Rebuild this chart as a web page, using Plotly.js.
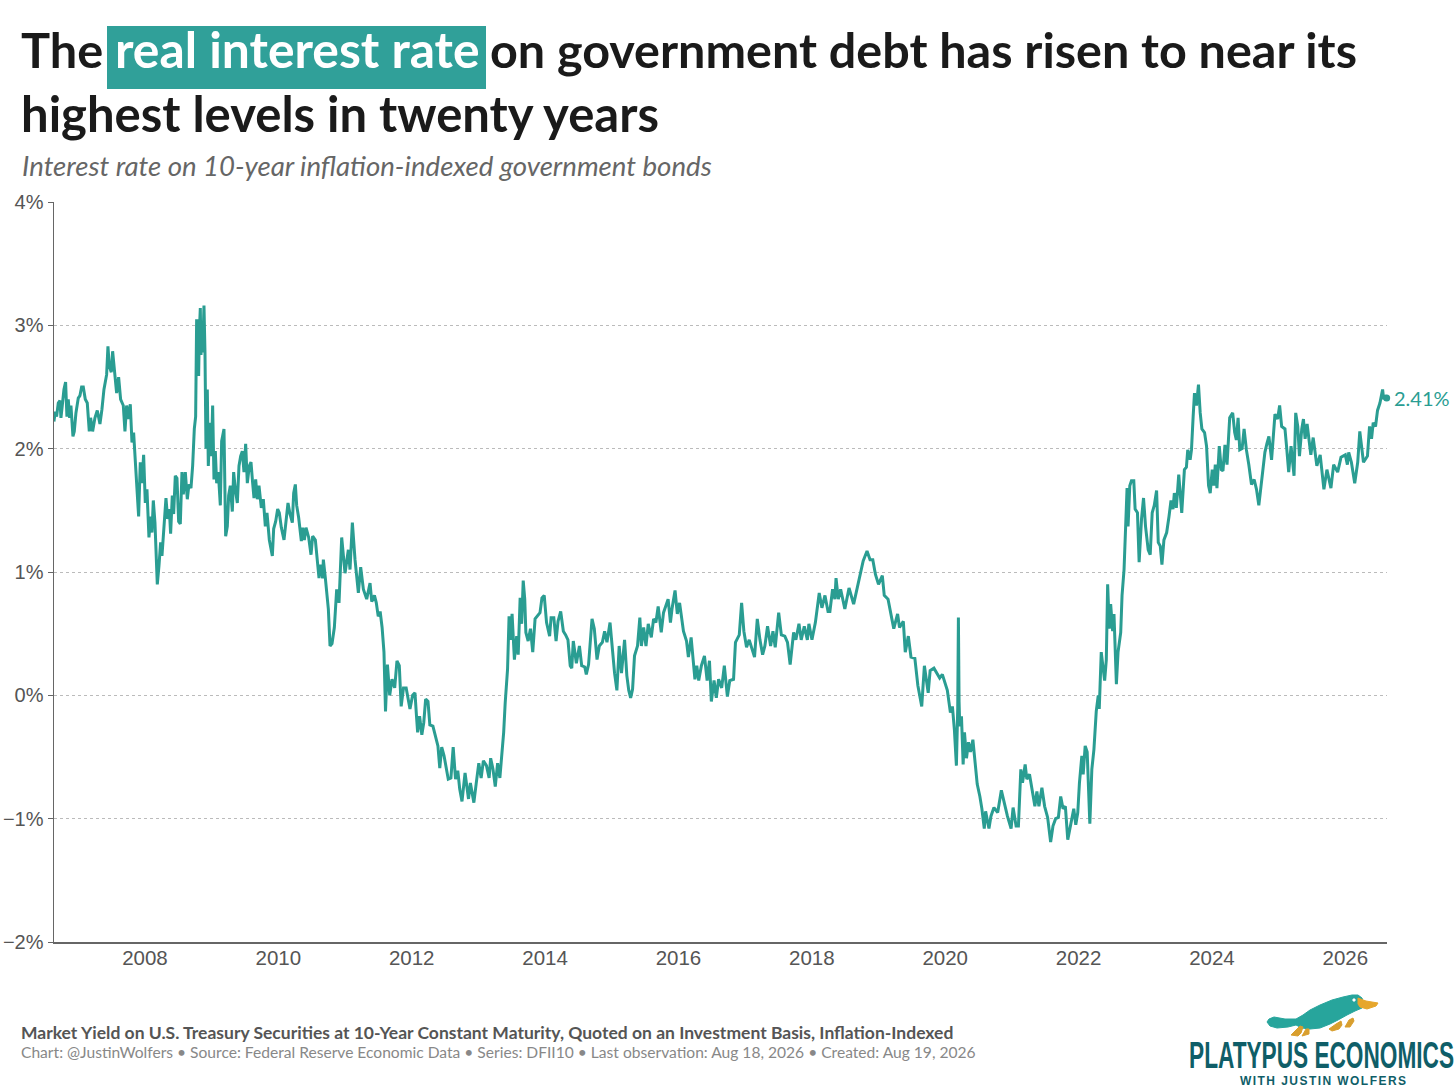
<!DOCTYPE html>
<html>
<head>
<meta charset="utf-8">
<script src="https://cdn.plot.ly/plotly-3.0.1.min.js"></script>
<style>
  html, body { margin: 0; padding: 0; background: #fff; }
  #chart { width: 1456px; height: 1092px; }
</style>
</head>
<body>
<div id="chart"></div>
<script>
// Series (DFII10, decimal years, percent)
const years = [
  2006.635,2006.655,2006.675,2006.70,2006.725,2006.74,2006.76,2006.785,2006.81,2006.83,2006.85,2006.87,
  2006.89,2006.92,2006.94,2006.965,2007.0,2007.025,2007.05,2007.075,2007.105,2007.135,2007.165,2007.185,
  2007.215,2007.25,2007.285,2007.325,2007.355,2007.385,2007.425,2007.445,2007.465,2007.495,2007.515,2007.545,
  2007.575,2007.605,2007.635,2007.675,2007.70,2007.725,2007.745,2007.78,2007.805,2007.83,2007.85,2007.875,
  2007.905,2007.93,2007.955,2007.98,2008.005,2008.03,2008.06,2008.085,2008.105,2008.125,2008.15,2008.165,
  2008.185,2008.21,2008.235,2008.255,2008.275,2008.30,2008.315,2008.34,2008.365,2008.385,2008.41,2008.43,
  2008.455,2008.48,2008.505,2008.53,2008.555,2008.575,2008.605,2008.635,2008.66,2008.69,2008.715,2008.74,
  2008.76,2008.775,2008.785,2008.795,2008.805,2008.815,2008.83,2008.84,2008.855,2008.865,2008.885,2008.90,
  2008.915,2008.935,2008.95,2008.975,2008.995,2009.015,2009.035,2009.055,2009.075,2009.10,2009.13,2009.15,
  2009.185,2009.21,2009.235,2009.255,2009.28,2009.31,2009.33,2009.355,2009.385,2009.41,2009.435,2009.46,
  2009.485,2009.51,2009.535,2009.565,2009.59,2009.615,2009.635,2009.66,2009.685,2009.71,2009.745,2009.775,
  2009.805,2009.83,2009.865,2009.91,2009.93,2009.96,2009.99,2010.015,2010.045,2010.085,2010.115,2010.145,
  2010.175,2010.21,2010.23,2010.255,2010.275,2010.305,2010.345,2010.365,2010.39,2010.415,2010.455,2010.49,
  2010.515,2010.555,2010.61,2010.635,2010.665,2010.675,2010.705,2010.735,2010.75,2010.775,2010.805,2010.84,
  2010.875,2010.91,2010.95,2011.0,2011.05,2011.075,2011.11,2011.15,2011.20,2011.235,2011.275,2011.325,
  2011.375,2011.401,2011.441,2011.469,2011.498,2011.527,2011.556,2011.584,2011.607,2011.636,2011.670,2011.705,
  2011.745,2011.779,2011.814,2011.842,2011.877,2011.917,2011.946,2011.974,2012.014,2012.049,2012.072,2012.089,
  2012.118,2012.152,2012.181,2012.209,2012.244,2012.272,2012.318,2012.358,2012.393,2012.421,2012.450,2012.485,
  2012.519,2012.548,2012.588,2012.622,2012.657,2012.691,2012.720,2012.754,2012.800,2012.829,2012.852,2012.880,
  2012.932,2012.966,2013.006,2013.041,2013.075,2013.121,2013.161,2013.184,2013.219,2013.253,2013.288,2013.322,
  2013.356,2013.379,2013.402,2013.437,2013.460,2013.483,2013.505,2013.540,2013.574,2013.597,2013.626,2013.649,
  2013.672,2013.695,2013.712,2013.746,2013.781,2013.815,2013.850,2013.884,2013.924,2013.953,2013.987,2014.022,
  2014.068,2014.090,2014.131,2014.165,2014.194,2014.234,2014.274,2014.308,2014.343,2014.377,2014.400,2014.423,
  2014.469,2014.515,2014.549,2014.595,2014.618,2014.652,2014.681,2014.704,2014.738,2014.779,2014.813,2014.859,
  2014.893,2014.928,2014.974,2015.008,2015.042,2015.077,2015.111,2015.146,2015.192,2015.226,2015.255,2015.283,
  2015.312,2015.341,2015.386,2015.421,2015.444,2015.478,2015.513,2015.547,2015.593,2015.627,2015.662,2015.696,
  2015.742,2015.776,2015.845,2015.880,2015.903,2015.949,2015.983,2016.017,2016.046,2016.075,2016.121,2016.149,
  2016.190,2016.218,2016.247,2016.275,2016.304,2016.344,2016.390,2016.430,2016.465,2016.493,2016.534,2016.568,
  2016.602,2016.648,2016.688,2016.734,2016.769,2016.826,2016.855,2016.912,2016.947,2016.981,2017.021,2017.061,
  2017.107,2017.141,2017.182,2017.222,2017.262,2017.296,2017.336,2017.382,2017.417,2017.451,2017.503,2017.543,
  2017.595,2017.635,2017.675,2017.727,2017.761,2017.807,2017.841,2017.887,2017.933,2017.956,2018.002,2018.053,
  2018.111,2018.151,2018.197,2018.243,2018.271,2018.311,2018.346,2018.363,2018.397,2018.432,2018.495,2018.558,
  2018.627,2018.701,2018.770,2018.828,2018.873,2018.914,2018.954,2019.0,2019.057,2019.086,2019.143,2019.200,
  2019.229,2019.286,2019.315,2019.372,2019.401,2019.447,2019.487,2019.545,2019.590,2019.648,2019.688,2019.745,
  2019.774,2019.831,2019.917,2019.957,2020.032,2020.078,2020.108,2020.138,2020.168,2020.188,2020.198,2020.208,
  2020.218,2020.244,2020.269,2020.289,2020.319,2020.349,2020.379,2020.415,2020.445,2020.480,2020.520,2020.550,
  2020.586,2020.606,2020.656,2020.686,2020.731,2020.787,2020.842,2020.882,2020.933,2020.988,2021.018,2021.063,
  2021.098,2021.134,2021.159,2021.199,2021.224,2021.264,2021.300,2021.345,2021.375,2021.405,2021.450,2021.491,
  2021.536,2021.581,2021.616,2021.656,2021.697,2021.732,2021.767,2021.802,2021.838,2021.878,2021.928,2021.958,
  2021.988,2022.013,2022.049,2022.069,2022.099,2022.129,2022.169,2022.199,2022.230,2022.265,2022.295,2022.310,
  2022.340,2022.370,2022.391,2022.416,2022.436,2022.461,2022.481,2022.511,2022.531,2022.567,2022.592,2022.632,
  2022.652,2022.682,2022.707,2022.727,2022.742,2022.768,2022.793,2022.828,2022.848,2022.883,2022.908,2022.944,
  2022.974,2023.004,2023.044,2023.074,2023.104,2023.135,2023.170,2023.195,2023.225,2023.250,2023.280,2023.321,
  2023.356,2023.386,2023.416,2023.436,2023.466,2023.502,2023.547,2023.572,2023.587,2023.617,2023.637,2023.673,
  2023.693,2023.718,2023.738,2023.768,2023.798,2023.824,2023.849,2023.889,2023.919,2023.949,2023.974,2024.004,
  2024.029,2024.050,2024.075,2024.110,2024.140,2024.165,2024.195,2024.226,2024.266,2024.311,2024.341,2024.366,
  2024.392,2024.417,2024.452,2024.482,2024.517,2024.553,2024.593,2024.633,2024.668,2024.703,2024.744,2024.794,
  2024.824,2024.854,2024.894,2024.945,2024.985,2025.015,2025.045,2025.095,2025.120,2025.151,2025.186,2025.231,
  2025.256,2025.287,2025.312,2025.347,2025.372,2025.397,2025.427,2025.483,2025.518,2025.573,2025.623,2025.679,
  2025.724,2025.784,2025.825,2025.885,2025.935,2026.0,2026.031,2026.051,2026.091,2026.141,2026.186,2026.217,
  2026.272,2026.332,2026.363,2026.393,2026.418,2026.453,2026.483,2026.519,2026.559,2026.575,2026.595,2026.62
];
const rates = [
  2.22,2.30,2.26,2.37,2.39,2.25,2.35,2.48,2.54,2.26,2.40,2.25,
  2.35,2.10,2.14,2.29,2.41,2.43,2.50,2.50,2.40,2.37,2.14,2.25,
  2.14,2.25,2.31,2.20,2.32,2.48,2.60,2.83,2.67,2.62,2.79,2.62,
  2.45,2.58,2.40,2.35,2.14,2.35,2.24,2.36,2.05,2.13,1.89,1.72,
  1.45,1.89,1.72,1.95,1.56,1.67,1.28,1.45,1.32,1.58,1.40,1.10,
  0.90,1.05,1.24,1.13,1.28,1.44,1.60,1.43,1.51,1.31,1.62,1.47,
  1.78,1.76,1.41,1.39,1.81,1.63,1.81,1.59,1.71,1.68,1.86,2.16,
  2.26,3.05,2.70,3.05,2.59,2.94,3.14,2.76,3.02,2.78,3.16,2.78,
  2.00,2.48,1.86,2.21,1.94,2.35,1.75,1.98,1.72,1.81,1.54,2.06,
  2.16,1.29,1.37,1.62,1.70,1.49,1.81,1.67,1.56,1.86,1.94,1.98,
  1.81,2.04,1.72,1.86,1.89,1.72,1.60,1.75,1.59,1.70,1.52,1.59,
  1.37,1.48,1.26,1.13,1.35,1.41,1.51,1.48,1.36,1.26,1.44,1.56,
  1.47,1.40,1.64,1.71,1.54,1.44,1.25,1.36,1.26,1.36,1.28,1.14,
  1.29,1.26,0.95,1.06,0.95,1.10,0.95,0.79,0.70,0.40,0.42,0.55,
  0.86,0.75,1.28,0.99,1.18,1.02,1.40,1.10,0.83,1.04,0.86,0.78,
  0.91,0.76,0.81,0.75,0.64,0.68,0.55,0.35,-0.13,0.25,0.00,0.13,
  0.06,0.28,0.24,-0.09,0.06,0.06,-0.03,-0.11,0.00,0.02,-0.17,-0.30,
  -0.17,-0.32,-0.22,-0.03,-0.05,-0.24,-0.25,-0.33,-0.41,-0.59,-0.42,-0.49,
  -0.60,-0.68,-0.67,-0.42,-0.68,-0.61,-0.76,-0.86,-0.63,-0.76,-0.84,-0.71,
  -0.87,-0.72,-0.55,-0.67,-0.53,-0.57,-0.67,-0.51,-0.60,-0.74,-0.55,-0.67,
  -0.46,-0.30,-0.06,0.21,0.64,0.45,0.66,0.29,0.48,0.33,0.79,0.58,
  0.93,0.78,0.51,0.44,0.54,0.35,0.62,0.64,0.67,0.79,0.81,0.59,
  0.48,0.63,0.63,0.44,0.60,0.68,0.52,0.49,0.45,0.24,0.22,0.44,
  0.26,0.40,0.24,0.23,0.17,0.25,0.45,0.62,0.54,0.29,0.40,0.43,
  0.52,0.43,0.59,0.37,0.18,0.04,0.40,0.18,0.45,0.16,0.04,-0.02,
  0.05,0.32,0.40,0.63,0.40,0.55,0.40,0.58,0.47,0.62,0.59,0.72,
  0.51,0.67,0.78,0.59,0.70,0.85,0.66,0.75,0.64,0.52,0.44,0.31,
  0.47,0.32,0.13,0.24,0.12,0.24,0.32,0.12,0.28,-0.05,0.12,-0.02,
  0.13,0.06,0.24,-0.01,0.12,0.13,0.43,0.49,0.75,0.52,0.39,0.45,
  0.37,0.31,0.62,0.45,0.33,0.40,0.56,0.40,0.52,0.39,0.67,0.49,
  0.48,0.43,0.25,0.51,0.45,0.58,0.45,0.56,0.45,0.58,0.45,0.59,
  0.83,0.71,0.81,0.68,0.68,0.86,0.78,0.95,0.78,0.86,0.70,0.87,
  0.74,0.93,1.09,1.17,1.10,1.10,0.98,0.90,0.97,0.81,0.78,0.62,
  0.54,0.66,0.55,0.60,0.35,0.48,0.31,0.30,0.08,-0.09,0.24,0.02,
  0.20,0.22,0.14,0.17,0.04,-0.14,-0.09,-0.28,-0.57,-0.10,0.63,-0.05,
  -0.25,-0.17,-0.56,-0.30,-0.51,-0.38,-0.46,-0.36,-0.55,-0.72,-0.82,-0.92,
  -1.08,-0.94,-1.08,-0.98,-0.91,-0.95,-0.77,-0.87,-0.98,-1.08,-0.91,-1.06,
  -1.06,-0.60,-0.71,-0.56,-0.68,-0.64,-0.76,-0.90,-0.78,-0.90,-0.75,-0.90,
  -0.99,-1.19,-1.06,-1.00,-0.99,-0.82,-0.92,-0.90,-1.17,-1.07,-0.92,-1.05,
  -0.95,-0.71,-0.49,-0.64,-0.41,-0.46,-1.04,-0.60,-0.44,-0.13,0.00,-0.11,
  0.35,0.21,0.12,0.29,0.90,0.54,0.74,0.52,0.66,0.09,0.35,0.51,
  0.81,1.02,1.43,1.68,1.37,1.70,1.74,1.74,1.51,1.48,1.08,1.43,
  1.60,1.37,1.18,1.14,1.48,1.54,1.66,1.24,1.21,1.06,1.26,1.32,
  1.45,1.58,1.51,1.64,1.52,1.79,1.48,1.67,1.83,1.85,1.99,1.91,
  1.99,2.26,2.45,2.35,2.52,2.29,2.16,2.13,2.02,1.70,1.64,1.83,
  1.70,1.87,1.68,2.02,1.83,1.82,2.03,1.87,2.25,2.29,2.13,2.07,
  2.25,1.99,2.00,2.16,1.99,1.87,1.71,1.75,1.67,1.54,1.75,1.97,
  2.04,2.10,1.91,2.28,2.24,2.35,2.18,2.16,2.01,1.81,2.02,1.78,
  2.29,2.18,1.94,2.16,2.24,2.08,2.20,1.95,2.09,1.86,1.95,1.67,
  1.83,1.68,1.87,1.81,1.93,1.95,1.87,1.97,1.89,1.72,1.89,2.14,
  1.89,1.94,2.18,2.08,2.21,2.18,2.31,2.37,2.48,2.40,2.43,2.41
];
const yearTicks = [2008,2010,2012,2014,2016,2018,2020,2022,2024,2026];
const rateTicks = [-2,-1,0,1,2,3,4];
const rateTickText = ["−2%","−1%","0%","1%","2%","3%","4%"];
const lastLabel = "2.41%";

const titleStart = "The";
const titleHighlight = "real interest rate";
const titleEnd = "on government debt has risen to near its";
const titleSecond = "highest levels in twenty years";
const subtitle = "Interest rate on 10-year inflation-indexed government bonds";
const footBold = "Market Yield on U.S. Treasury Securities at 10-Year Constant Maturity, Quoted on an Investment Basis, Inflation-Indexed";
const footLight = "Chart: @JustinWolfers • Source: Federal Reserve Economic Data • Series: DFII10 • Last observation: Aug 18, 2026 • Created: Aug 19, 2026";
const logoName = "PLATYPUS ECONOMICS";
const logoBy = "WITH JUSTIN WOLFERS";

const teal = "#2a9d92";
const W = 1456, H = 1092;
const mar = { l: 54, r: 69, t: 202, b: 150 };

// page pixels to paper coords
const px = x => (x - mar.l) / (W - mar.l - mar.r);
const py = y => (H - mar.b - y) / (H - mar.t - mar.b);

function label(text, x, y, font, anchor) {
  return {
    text: text, xref: "paper", yref: "paper", x: px(x), y: py(y),
    xanchor: anchor || "left", yanchor: "middle", showarrow: false,
    borderpad: 0, borderwidth: 0, font: font
  };
}

function pathShape(points, color) {
  const d = points.map((p, i) => (i ? "L" : "M") + px(p[0]) + "," + py(p[1])).join(" ") + " Z";
  return { type: "path", xref: "paper", yref: "paper", path: d, fillcolor: color, line: { color: color, width: 1 } };
}

const titleFont = { family: "Lato", size: 48.7, weight: 700, color: "#1a1a1a" };

const annotations = [
  label(titleStart, 21, 49.5, titleFont),
  label(titleHighlight, 115, 49.5, Object.assign({}, titleFont, { color: "#fff", size: 49.8 })),
  label(titleEnd, 490, 49.5, Object.assign({}, titleFont, { size: 48.5 })),
  label(titleSecond, 21, 113.5, Object.assign({}, titleFont, { size: 49 })),
  label(subtitle, 22, 165.5, { family: "Lato", size: 27.6, style: "italic", color: "#666" }),
  label(lastLabel, 1394, 398, { family: "Lato", size: 20, color: teal }),
  label(footBold, 21, 1032, { family: "Lato", size: 17.5, weight: 700, color: "#555" }),
  label(footLight, 21, 1052, { family: "Lato", size: 15.6, color: "#888" }),
  label(logoName, 1321, 1055, { family: "Liberation Sans", size: 37, weight: 700, color: "#0f5e68" }, "center"),
  label(logoBy, 1323, 1081, { family: "Liberation Sans", size: 12, weight: 700, color: "#0f5e68" }, "center")
];

const shapes = [
  { type: "rect", xref: "paper", yref: "paper", x0: px(107), x1: px(486), y0: py(89), y1: py(26),
    fillcolor: "#30a099", line: { width: 0 }, layer: "above" },
  // platypus logo
  pathShape([[1267,1022],[1269,1019],[1274,1017],[1285,1019],[1296,1019],[1303,1015],[1310,1010],[1320,1005],[1332,1000],[1343,997],[1352,995],[1358,995],[1362,998],[1364,1004],[1362,1008],[1355,1011],[1347,1015],[1338,1020],[1330,1024],[1320,1028],[1310,1029],[1302,1028],[1296,1025],[1288,1027],[1277,1028],[1270,1026]], "#27a59c"),
  pathShape([[1358,998],[1366,1001],[1378,1003],[1376,1006],[1367,1009],[1360,1007],[1358,1004]], "#e6a62c"),
  pathShape([[1291,1035],[1297,1029],[1300,1026],[1303,1027],[1301,1033],[1298,1036]], "#d99f2e"),
  pathShape([[1302,1036],[1306,1029],[1309,1029],[1309,1034]], "#d99f2e"),
  pathShape([[1329,1029],[1336,1024],[1341,1021],[1342,1025],[1339,1029],[1332,1031]], "#d99f2e"),
  pathShape([[1345,1027],[1349,1020],[1353,1018],[1354,1021],[1350,1027]], "#d99f2e"),
  pathShape([[1353,999],[1355,999],[1355,1001],[1353,1001]], "#ffffff")
];

const traces = [
  { x: years, y: rates, type: "scatter", mode: "lines", line: { color: teal, width: 3 }, hoverinfo: "skip" },
  { x: years.slice(-1), y: rates.slice(-1), type: "scatter", mode: "markers", marker: { color: teal, size: 7 }, cliponaxis: false, hoverinfo: "skip" }
];

const layout = {
  width: W, height: H, margin: mar, showlegend: false,
  paper_bgcolor: "#fff", plot_bgcolor: "#fff",
  font: { family: "Liberation Sans", color: "#555" },
  xaxis: {
    range: [2006.636, 2026.625], tickvals: yearTicks, ticktext: yearTicks.map(String),
    showgrid: false, zeroline: false, showline: true, linecolor: "#666", linewidth: 1.5,
    ticks: "", ticklabelstandoff: -3, tickfont: { size: 20.5, color: "#555" }
  },
  yaxis: {
    range: [-2, 4], tickvals: rateTicks, ticktext: rateTickText,
    showgrid: true, gridcolor: "#bbb", gridwidth: 1, griddash: "dot",
    zeroline: false, showline: true, linecolor: "#666", linewidth: 1.5,
    ticks: "outside", ticklen: 5, tickcolor: "#666", tickfont: { size: 20, color: "#555" }
  },
  annotations: annotations,
  shapes: shapes
};

Plotly.newPlot("chart", traces, layout, { displayModeBar: false, staticPlot: true }).then(() => {
  // no condensed font is installed, so squeeze the logo wordmark to its width
  document.querySelectorAll(".annotation-text").forEach(t => {
    if (t.textContent === logoName) {
      t.setAttribute("textLength", 265);
      t.setAttribute("lengthAdjust", "spacingAndGlyphs");
    }
    if (t.textContent === logoBy) {
      t.setAttribute("textLength", 166);
      t.setAttribute("lengthAdjust", "spacing");
    }
  });
});
</script>
</body>
</html>
